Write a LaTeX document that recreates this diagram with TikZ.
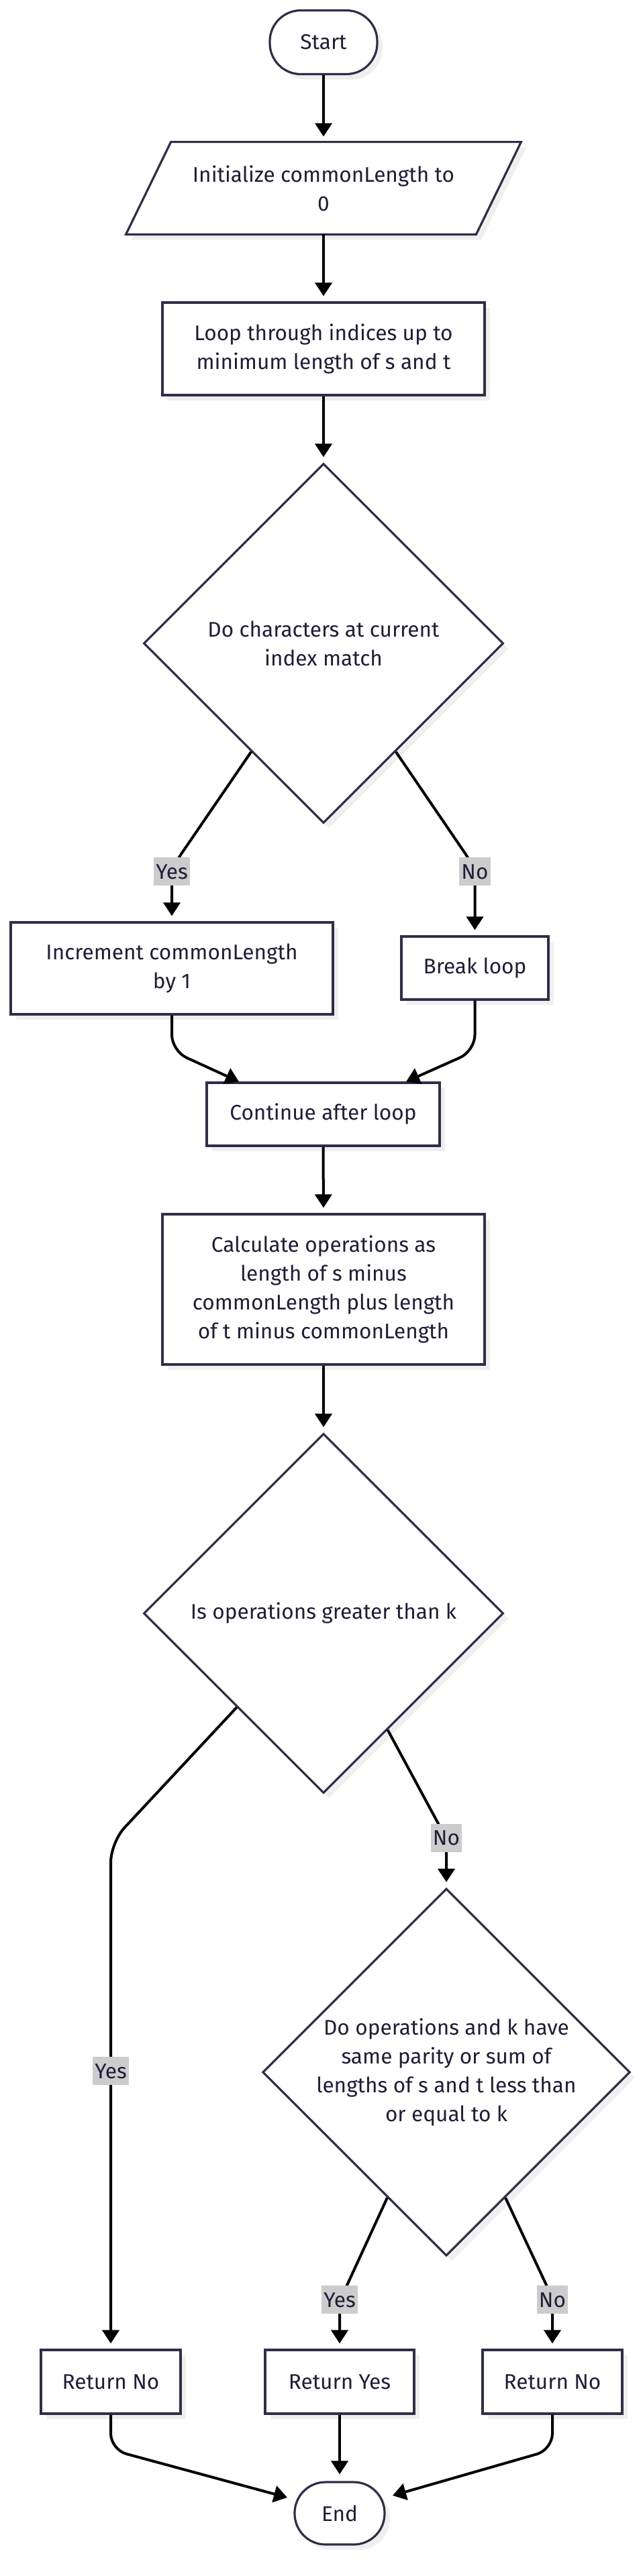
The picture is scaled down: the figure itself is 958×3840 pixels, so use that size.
\documentclass[tikz,border=0pt]{standalone}
\usepackage{fontspec}
\setmainfont{Fira Sans}
\usetikzlibrary{shapes.geometric,arrows.meta,calc,shadows,backgrounds}
\definecolor{nodeline}{HTML}{2E2E48}
\definecolor{txt}{HTML}{1E1E38}
\definecolor{lblbg}{HTML}{CCCCCC}
\definecolor{shd}{HTML}{EFEFEF}
\tikzset{
  myshadow/.style={drop shadow={shadow xshift=4pt,shadow yshift=-4pt,fill=shd,opacity=1}},
  txtfont/.style={font=\fontsize{15.8}{21.5}\selectfont},
  box/.style={rectangle, draw=nodeline, line width=1.6pt, fill=white, text=txt, align=center, txtfont, inner sep=0pt, myshadow},
  term/.style={box, rounded corners=23pt},
  dec/.style={diamond, aspect=1, draw=nodeline, line width=1.6pt, fill=white, text=txt, align=center, txtfont, inner sep=0pt, minimum width=268pt, minimum height=268pt, myshadow},
  edge/.style={draw=black, line width=2pt, -{Triangle[length=10pt,width=12.5pt]}, rounded corners=12pt},
  lbl/.style={fill=lblbg, text=txt, txtfont, inner xsep=1.5pt, inner ysep=0pt, minimum height=21pt}
}
\begin{document}
\begin{tikzpicture}[x=0.5pt,y=-0.5pt]
\useasboundingbox (0,0) rectangle (958,3840);

% nodes
\node[term, minimum width=80pt, minimum height=47.5pt] (start) at (482,63) {Start};
\node[align=center, text=txt, txtfont, inner sep=0pt, minimum width=260.5pt, minimum height=68.5pt] (init) at (482,280.5) {Initialize commonLength to\\0};
\begin{scope}[on background layer]
  \fill[shd] ($(init.north west)+(41.5,8)$) -- ($(init.north east)+(41.5,8)$) -- ($(init.south east)+(-25.5,8)$) -- ($(init.south west)+(-25.5,8)$) -- cycle;
  \draw[draw=nodeline, line width=1.6pt, fill=white] ($(init.north west)+(33.5,0)$) -- ($(init.north east)+(33.5,0)$) -- ($(init.south east)+(-33.5,0)$) -- ($(init.south west)+(-33.5,0)$) -- cycle;
\end{scope}
\node[box, minimum width=240pt, minimum height=69pt] (loop) at (482,520) {Loop through indices up to\\minimum length of s and t};
\node[dec] (d1) at (482,959) {Do characters at current\\index match};
\node[box, minimum width=240pt, minimum height=68.5pt] (inc) at (256,1443.5) {Increment commonLength\\by 1};
\node[box, minimum width=109.5pt, minimum height=47pt] (brk) at (707.5,1443) {Break loop};
\node[box, minimum width=173.5pt, minimum height=47pt] (cont) at (481.5,1661) {Continue after loop};
\node[box, minimum width=240pt, minimum height=112pt] (calc) at (482,1922) {Calculate operations as\\length of s minus\\commonLength plus length\\of t minus commonLength};
\node[dec] (d2) at (482,2405) {Is operations greater than k};
\node[dec] (d3) at (665,3089) {Do operations and k have\\same parity or sum of\\lengths of s and t less than\\or equal to k};
\node[box, minimum width=104pt, minimum height=47.5pt] (retno1) at (165,3550.5) {Return No};
\node[box, minimum width=111pt, minimum height=47.5pt] (retyes) at (506,3550.5) {Return Yes};
\node[box, minimum width=104pt, minimum height=47.5pt] (retno2) at (823,3550.5) {Return No};
\node[term, minimum width=67pt, minimum height=46.5pt] (end) at (506,3746.5) {End};

% edges
\draw[edge, shorten >=4pt] (start.south) -- (init.north);
\draw[edge, shorten >=4pt] (init.south) -- (loop.north);
\draw[edge, shorten >=4pt] (loop.south) -- (d1.north);
\draw[edge, shorten >=4pt] ($(d1.west)!0.6!(d1.south)$) -- ([yshift=40pt]inc.north) -- (inc.north);
\node[lbl] (l1) at ([yshift=37pt]inc.north) {Yes};
\draw[edge, shorten >=4pt] ($(d1.east)!0.6!(d1.south)$) -- ([yshift=50.5pt]brk.north) -- (brk.north);
\node[lbl] (l2) at ([yshift=47.5pt]brk.north) {No};
\draw[edge] (inc.south) -- ([yshift=-26.5pt]inc.south) -- ($(cont.north)+(-125.5,0)$);
\draw[edge] (brk.south) -- ([yshift=-37.5pt]brk.south) -- ($(cont.north)+(123.5,0)$);
\draw[edge, shorten >=4pt] (cont.south) -- (calc.north);
\draw[edge, shorten >=4pt] (calc.south) -- (d2.north);
\draw[edge, shorten >=4pt, rounded corners=15pt] ($(d2.west)!0.52!(d2.south)$) -- ([yshift=377.5pt]retno1.north) -- (retno1.north);
\node[lbl] (l3) at ([yshift=207pt]retno1.north) {Yes};
\draw[edge, shorten >=4pt] ($(d2.east)!0.645!(d2.south)$) -- ([yshift=36.5pt]d3.north) -- (d3.north);
\node[lbl] (l4) at ([yshift=37pt]d3.north) {No};
\draw[edge, shorten >=4pt] ($(d3.west)!0.68!(d3.south)$) -- ([yshift=35.5pt]retyes.north) -- (retyes.north);
\node[lbl] (l5) at ([yshift=36.5pt]retyes.north) {Yes};
\draw[edge, shorten >=4pt] ($(d3.east)!0.68!(d3.south)$) -- ([yshift=38pt]retno2.north) -- (retno2.north);
\node[lbl] (l6) at ([yshift=36.5pt]retno2.north) {No};
\draw[edge] (retno1.south) -- ([yshift=-26pt]retno1.south) -- ($(end.center)+(-78,-23.5)$);
\draw[edge, shorten >=5pt] (retyes.south) -- (end.north);
\draw[edge] (retno2.south) -- ([yshift=-26pt]retno2.south) -- ($(end.center)+(79,-26.5)$);
\end{tikzpicture}
\end{document}
